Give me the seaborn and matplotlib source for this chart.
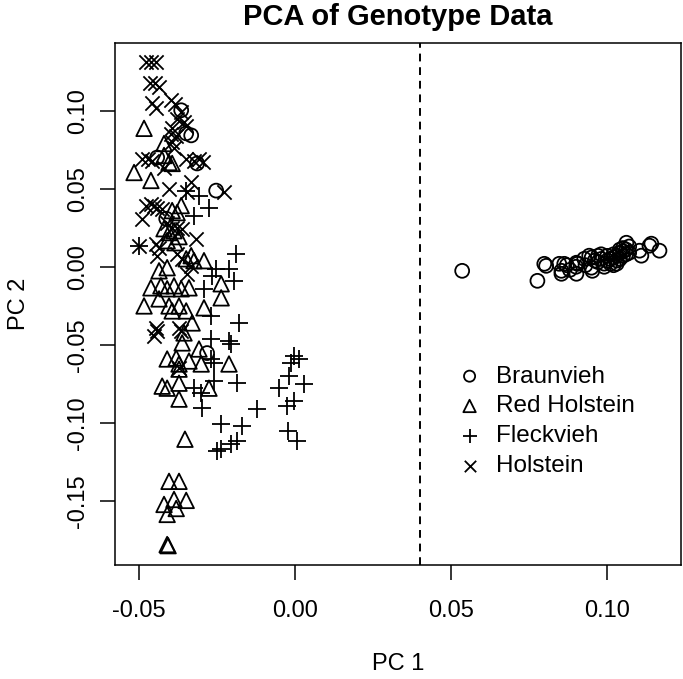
import matplotlib
matplotlib.use("Agg")
import matplotlib.pyplot as plt
import seaborn as sns

# PC coordinates, per breed
braunvieh_pc1 = [-0.0365, -0.0349, -0.0333, -0.0442, -0.0314, -0.0253, -0.0413, -0.0282,
                 0.0535, 0.0776, 0.0798, 0.0804, 0.0846, 0.0853, 0.0853, 0.0862, 0.0901,
                 0.0901, 0.0904, 0.0926, 0.0942, 0.0949, 0.0952, 0.1061, 0.1103, 0.1109,
                 0.1135, 0.1141, 0.1167, 0.097, 0.098, 0.099, 0.100, 0.100, 0.101, 0.101,
                 0.102, 0.102, 0.103, 0.103, 0.104, 0.104, 0.105, 0.105, 0.105, 0.106,
                 0.106, 0.107, 0.107, 0.098, 0.096, 0.099, 0.103, 0.104, 0.102, 0.095,
                 0.097, 0.093, 0.090, 0.088, 0.087]
braunvieh_pc2 = [0.1003, 0.0855, 0.0842, 0.0700, 0.0662, 0.0488, 0.0308, -0.0553,
                 -0.0026, -0.0090, 0.0019, 0.0006, 0.0019, -0.0026, -0.0045, 0.0019, -0.0045,
                 0.0026, 0.0019, 0.0051, 0.0071, -0.0006, -0.0026, 0.0154, 0.0103, 0.0071,
                 0.0135, 0.0148, 0.0103, 0.003, 0.005, 0.002, 0.004, 0.007, 0.005, 0.002,
                 0.006, 0.008, 0.004, 0.007, 0.009, 0.005, 0.010, 0.007, 0.012, 0.008,
                 0.011, 0.009, 0.013, 0.008, 0.004, 0.000, 0.002, 0.011, 0.001, 0.006,
                 0.007, 0.001, 0.000, -0.002, 0.001]

red_holstein_pc1 = [-0.0484, -0.0420, -0.0420, -0.0404, -0.0394, -0.0516, -0.0462, -0.0365,
                    -0.0394, -0.0378, -0.0420, -0.0404, -0.0388, -0.0372, -0.0410, -0.0385,
                    -0.0333, -0.0349, -0.0324, -0.0292, -0.0436, -0.0410, -0.0462, -0.0430,
                    -0.0410, -0.0388, -0.0365, -0.0340, -0.0237, -0.0237, -0.0484, -0.0436,
                    -0.0404, -0.0394, -0.0372, -0.0349, -0.0292, -0.0330, -0.0356, -0.0362,
                    -0.0308, -0.0410, -0.0381, -0.0372, -0.0340, -0.0301, -0.0212, -0.0372,
                    -0.0426, -0.0410, -0.0372, -0.0276, -0.0372, -0.0353, -0.0404, -0.0372,
                    -0.0420, -0.0388, -0.0349, -0.0410, -0.0381, -0.0410, -0.0407]
red_holstein_pc2 = [0.0887, 0.0790, 0.0713, 0.0668, 0.0662, 0.0604, 0.0553, 0.0392,
                    0.0360, 0.0347, 0.0244, 0.0219, 0.0231, 0.0193, 0.0167, 0.0154,
                    0.0071, 0.0051, 0.0039, 0.0039, -0.0026, -0.0006, -0.0135, -0.0122,
                    -0.0141, -0.0122, -0.0141, -0.0135, -0.0109, -0.0199, -0.0251, -0.0206,
                    -0.0251, -0.0283, -0.0251, -0.0283, -0.0263, -0.0360, -0.0424, -0.0488,
                    -0.0527, -0.0591, -0.0585, -0.0623, -0.0604, -0.0623, -0.0623, -0.0656,
                    -0.0765, -0.0778, -0.0746, -0.0778, -0.0848, -0.1105, -0.1375, -0.1375,
                    -0.1523, -0.1491, -0.1497, -0.1587, -0.1549, -0.1780, -0.1787]

fleckvieh_pc1 = [-0.0500, -0.0349, -0.0308, -0.0276, -0.0324, -0.0189, -0.0212, -0.0253,
                 -0.0196, -0.0292, -0.0266, -0.0269, -0.0180, -0.0269, -0.0212, -0.0205,
                 -0.0269, -0.0260, -0.0003, 0.0013, -0.0013, -0.0019, 0.0029, -0.0186,
                 -0.0260, -0.0324, -0.0301, -0.0051, -0.0026, -0.0003, -0.0298, -0.0122,
                 -0.0237, -0.0170, -0.0250, -0.0237, -0.0205, -0.0186, -0.0022, 0.0006]
fleckvieh_pc2 = [0.0135, 0.0488, 0.0456, 0.0379, 0.0328, 0.0084, -0.0013, -0.0013,
                 -0.0090, -0.0141, -0.0058, -0.0315, -0.0360, -0.0463, -0.0476, -0.0495,
                 -0.0591, -0.0617, -0.0572, -0.0591, -0.0617, -0.0700, -0.0752, -0.0746,
                 -0.0733, -0.0778, -0.0810, -0.0778, -0.0893, -0.0861, -0.0906, -0.0913,
                 -0.1009, -0.1022, -0.1183, -0.1170, -0.1138, -0.1118, -0.1054, -0.1118]

holstein_pc1 = [-0.0478, -0.0462, -0.0446, -0.0465, -0.0449, -0.0436, -0.0458, -0.0446,
                -0.0397, -0.0385, -0.0365, -0.0378, -0.0356, -0.0349, -0.0394, -0.0397,
                -0.0381, -0.0394, -0.0388, -0.0490, -0.0471, -0.0458, -0.0349, -0.0324,
                -0.0308, -0.0295, -0.0420, -0.0404, -0.0333, -0.0346, -0.0228, -0.0478,
                -0.0462, -0.0452, -0.0442, -0.0426, -0.0490, -0.0410, -0.0394, -0.0378,
                -0.0362, -0.0317, -0.0500, -0.0446, -0.0436, -0.0442, -0.0378, -0.0362,
                -0.0346, -0.0333, -0.0446, -0.0442, -0.0452, -0.0372, -0.0365, -0.0372]
holstein_pc2 = [0.131, 0.131, 0.131, 0.118, 0.118, 0.115, 0.105, 0.102,
                0.107, 0.104, 0.099, 0.095, 0.093, 0.090, 0.089, 0.085,
                0.084, 0.080, 0.076, 0.069, 0.069, 0.068, 0.069, 0.068,
                0.069, 0.067, 0.063, 0.0501, 0.054, 0.0476, 0.0476, 0.0392,
                0.0405, 0.0392, 0.0379, 0.0373, 0.0308, 0.0283, 0.0251, 0.0251,
                0.0244, 0.018, 0.0135, 0.0148, 0.0122, 0.0071, 0.0084, 0.0051,
                -0.0045, 0.0006, -0.0392, -0.0411, -0.0443, -0.0392, -0.0411, -0.0649]

breeds = ["Braunvieh", "Red Holstein", "Fleckvieh", "Holstein"]
pc1 = [braunvieh_pc1, red_holstein_pc1, fleckvieh_pc1, holstein_pc1]
pc2 = [braunvieh_pc2, red_holstein_pc2, fleckvieh_pc2, holstein_pc2]
markers = ["o", "^", "+", "x"]
sizes = [100, 125, 160, 105]

sns.set_style("ticks")
plt.rcParams["font.family"] = ["Liberation Sans", "DejaVu Sans"]
plt.rcParams["text.color"] = "black"
plt.rcParams["axes.labelcolor"] = "black"

fig = plt.figure(figsize=(6.83, 6.79), dpi=100)
ax = fig.add_axes([0.1684, 0.1679, 0.8287, 0.7688])

for name, xs, ys, m, s in zip(breeds, pc1, pc2, markers, sizes):
    if m in ("o", "^"):
        sns.scatterplot(x=xs, y=ys, marker=m, s=s, facecolor="none",
                        edgecolor="black", linewidth=1.3, label=name, ax=ax)
    else:
        sns.scatterplot(x=xs, y=ys, marker=m, s=s, color="black",
                        linewidth=1.3, label=name, ax=ax)

ax.axvline(0.04, color="black", linestyle=(0, (4, 3)), linewidth=1.4)

ax.set_xlim(-0.0577, 0.1236)
ax.set_ylim(-0.1911, 0.1434)
ax.set_xticks([-0.05, 0.00, 0.05, 0.10])
ax.set_xticklabels(["-0.05", "0.00", "0.05", "0.10"])
ax.set_yticks([-0.15, -0.10, -0.05, 0.00, 0.05, 0.10])
ax.set_yticklabels(["-0.15", "-0.10", "-0.05", "0.00", "0.05", "0.10"],
                   rotation=90, va="center")
ax.tick_params(axis="both", direction="out", length=11, width=1.1,
               labelsize=17, colors="black")
ax.tick_params(axis="x", pad=14.5)
ax.tick_params(axis="y", pad=7.5)
for sp in ax.spines.values():
    sp.set_visible(True)
    sp.set_color("black")
    sp.set_linewidth(1.1)

ax.set_xlabel("PC 1", fontsize=17, labelpad=22)
ax.set_ylabel("PC 2", fontsize=17, labelpad=27)
ax.set_title("PCA of Genotype Data", fontsize=21, fontweight="bold", pad=13)

ax.legend(loc="upper left", bbox_to_anchor=(0.562, 0.424), frameon=False,
          fontsize=17.5, markerscale=0.8, labelspacing=0.32, handletextpad=0.5,
          handlelength=1.2)

fig.savefig("out.png", dpi=100)
